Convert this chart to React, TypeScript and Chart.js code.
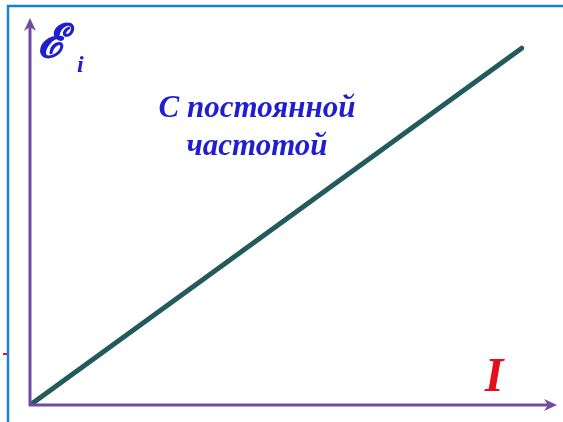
import React, { useEffect, useRef } from "react";
import { Chart, registerables } from "chart.js";

Chart.register(...registerables);

const currentValues = [0, 9.33];
const emfValues = [0, 9.22];
const axisMax = 10;
const curveLabel = ["С постоянной", "частотой"];
const yAxisSymbol = "ℰ";
const yAxisSub = "i";
const xAxisSymbol = "I";

const decorPlugin = {
  id: "decor",
  beforeDraw(chart: any) {
    const { ctx, width, height } = chart;
    ctx.save();
    ctx.fillStyle = "#ffffff";
    ctx.fillRect(0, 0, width, height);
    ctx.strokeStyle = "#1a7fd6";
    ctx.lineWidth = 2.5;
    ctx.beginPath();
    ctx.moveTo(8, height);
    ctx.lineTo(8, 6);
    ctx.lineTo(width, 6);
    ctx.stroke();
    ctx.strokeStyle = "#e0141e";
    ctx.lineWidth = 2;
    ctx.beginPath();
    ctx.moveTo(3, 354);
    ctx.lineTo(7, 354);
    ctx.stroke();
    ctx.restore();
  },
  afterDatasetsDraw(chart: any) {
    const { ctx, chartArea } = chart;
    const xs = chart.scales.x;
    const ys = chart.scales.y;
    const ox = xs.getPixelForValue(0);
    const oy = ys.getPixelForValue(0);
    ctx.save();
    ctx.strokeStyle = "#6f4aa3";
    ctx.fillStyle = "#6f4aa3";
    ctx.lineWidth = 3;
    ctx.lineCap = "butt";
    ctx.beginPath();
    ctx.moveTo(ox, oy + 1);
    ctx.lineTo(ox, chartArea.top + 8);
    ctx.stroke();
    ctx.beginPath();
    ctx.moveTo(ox, chartArea.top);
    ctx.lineTo(ox - 6, chartArea.top + 13);
    ctx.lineTo(ox, chartArea.top + 9);
    ctx.lineTo(ox + 6, chartArea.top + 13);
    ctx.closePath();
    ctx.fill();
    ctx.beginPath();
    ctx.moveTo(ox - 1, oy);
    ctx.lineTo(chartArea.right - 8, oy);
    ctx.stroke();
    ctx.beginPath();
    ctx.moveTo(chartArea.right, oy);
    ctx.lineTo(chartArea.right - 13, oy - 6);
    ctx.lineTo(chartArea.right - 9, oy);
    ctx.lineTo(chartArea.right - 13, oy + 6);
    ctx.closePath();
    ctx.fill();

    ctx.fillStyle = "#1f1fcf";
    ctx.strokeStyle = "#1f1fcf";
    ctx.textBaseline = "alphabetic";
    ctx.textAlign = "left";
    ctx.font = "italic 46px 'DejaVu Serif'";
    ctx.lineWidth = 2.2;
    ctx.lineJoin = "round";
    ctx.fillText(yAxisSymbol, 38, 57);
    ctx.strokeText(yAxisSymbol, 38, 57);
    ctx.font = "bold italic 24px 'Liberation Serif'";
    ctx.fillText(yAxisSub, 77, 72);

    ctx.textAlign = "center";
    ctx.font = "bold italic 31px 'Liberation Serif'";
    ctx.fillText(curveLabel[0], 257, 117);
    ctx.fillText(curveLabel[1], 257, 155);

    ctx.fillStyle = "#e3101a";
    ctx.font = "bold italic 48px 'Liberation Serif'";
    ctx.fillText(xAxisSymbol, 494, 391);
    ctx.restore();
  },
};

export default function App() {
  const ref = useRef<HTMLCanvasElement>(null);
  useEffect(() => {
    if (!ref.current) return;
    const chart = new Chart(ref.current, {
      type: "line",
      data: {
        datasets: [
          {
            data: currentValues.map((x, i) => ({ x, y: emfValues[i] })),
            borderColor: "#235a5c",
            borderWidth: 5,
            borderCapStyle: "round",
            pointRadius: 0,
            tension: 0,
          },
        ],
      },
      options: {
        responsive: false,
        animation: false,
        layout: { padding: { left: 30, right: 6, top: 18, bottom: 17 } },
        plugins: { legend: { display: false }, tooltip: { enabled: false } },
        scales: {
          x: { type: "linear", min: 0, max: axisMax, display: false },
          y: { type: "linear", min: 0, max: axisMax, display: false },
        },
      },
      plugins: [decorPlugin],
    });
    return () => chart.destroy();
  }, []);
  return (
    <div style={{ position: "absolute", left: 0, top: 0, width: 563, height: 422 }}>
      <canvas ref={ref} width={563} height={422} />
    </div>
  );
}
